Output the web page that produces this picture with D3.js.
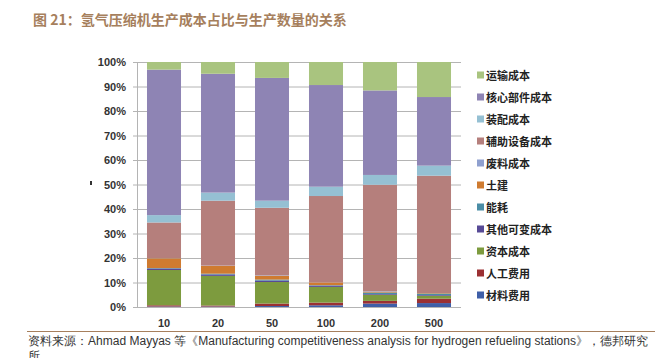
<!DOCTYPE html>
<html>
<head>
<meta charset="utf-8">
<script src="https://cdn.jsdelivr.net/npm/d3@7"></script>
<style>
  body { margin: 0; background: #fff; }
  svg { display: block; }
</style>
</head>
<body>
<svg id="chart" width="657" height="358"></svg>
<script>
// categories (production volume) and series, bottom of stack first
const categories = ['10', '20', '50', '100', '200', '500'];
const seriesNames = ['材料费用', '人工费用', '资本成本', '其他可变成本', '能耗', '土建',
  '废料成本', '辅助设备成本', '装配成本', '核心部件成本', '运输成本'];
const seriesColors = ['#3f5fa8', '#9b3033', '#7d9b3e', '#574a96', '#4b8da6', '#cf7b30',
  '#8fa0cf', '#b57f7c', '#95c0d3', '#8e84b4', '#a9c47f'];

// percent values, one array per series (in category order)
const material  = [0.2, 0.2, 0.4, 0.7, 1.4, 1.6];
const labor     = [0.5, 0.4, 1.0, 1.1, 1.1, 1.8];
const capital   = [14.4, 12.1, 8.8, 6.4, 2.5, 1.2];
const otherVar  = [0.6, 0.6, 0.6, 0.5, 0.3, 0.3];
const energy    = [0.2, 0.3, 0.4, 0.2, 0.6, 0.6];
const civil     = [4.0, 3.2, 1.5, 1.1, 0.4, 0.2];
const scrap     = [0.1, 0.1, 0.2, 0.0, 0.2, 0.0];
const auxEquip  = [14.5, 26.5, 27.6, 35.3, 43.4, 47.9];
const assembly  = [3.0, 3.3, 2.9, 3.8, 4.0, 4.1];
const coreParts = [59.4, 48.5, 50.1, 41.5, 34.5, 28.0];
const transport = [3.1, 4.8, 6.5, 9.4, 11.6, 14.3];
const yTicks = [0, 10, 20, 30, 40, 50, 60, 70, 80, 90, 100];

const seriesValues = [material, labor, capital, otherVar, energy, civil,
  scrap, auxEquip, assembly, coreParts, transport];

const table = categories.map((c, i) => {
  const row = { cat: c };
  seriesNames.forEach((s, k) => { row[s] = seriesValues[k][i]; });
  return row;
});

const svg = d3.select('#chart');
const margin = { left: 137, right: 196, top: 62, bottom: 51 };
const W = 657, H = 358;

let x = d3.scaleBand().domain(categories).range([margin.left, W - margin.right]).paddingInner(0.37).paddingOuter(0.185);
let y = d3.scaleLinear().domain([0, 100]).range([H - margin.bottom, margin.top]);

// title
svg.append('text')
  .attr('x', 33).attr('y', 25)
  .attr('fill', '#a67f5d')
  .attr('font-family', 'Noto Sans CJK SC')
  .attr('font-weight', 700)
  .attr('font-size', 14)
  .text('图 21：氢气压缩机生产成本占比与生产数量的关系');

// gridlines
svg.append('g').selectAll('line').data(yTicks).join('line')
  .attr('x1', margin.left - 4).attr('x2', W - margin.right)
  .attr('y1', d => y(d) + 0.5).attr('y2', d => y(d) + 0.5)
  .attr('stroke', '#b4b4b4').attr('stroke-width', 1);
svg.append('line')
  .attr('x1', margin.left + 0.5).attr('x2', margin.left + 0.5)
  .attr('y1', y(100)).attr('y2', y(0))
  .attr('stroke', '#b4b4b4');

// y tick labels
svg.append('g').selectAll('text').data(yTicks).join('text')
  .attr('x', 126).attr('y', d => y(d) + 4)
  .attr('text-anchor', 'end')
  .attr('font-family', 'Liberation Sans, Arial, sans-serif')
  .attr('font-weight', 700).attr('font-size', 11)
  .attr('fill', '#333')
  .text(d => d + '%');

// stacked bars
let stack = d3.stack().keys(seriesNames);
let layers = stack(table);
svg.append('g').selectAll('g').data(layers).join('g')
  .attr('fill', (d, i) => seriesColors[i])
  .selectAll('rect').data(d => d).join('rect')
  .attr('x', d => x(d.data.cat))
  .attr('width', x.bandwidth())
  .attr('y', d => y(d[1]))
  .attr('height', d => Math.max(0, y(d[0]) - y(d[1])));

// x labels
svg.append('g').selectAll('text').data(categories).join('text')
  .attr('x', d => x(d) + x.bandwidth() / 2).attr('y', 327)
  .attr('text-anchor', 'middle')
  .attr('font-family', 'Liberation Sans, Arial, sans-serif')
  .attr('font-weight', 700).attr('font-size', 11)
  .attr('fill', '#333')
  .text(d => d);

// legend (top item = last series)
let legendItems = seriesNames.map((s, i) => ({ name: s, color: seriesColors[i] })).reverse();
let legend = svg.append('g').selectAll('g').data(legendItems).join('g')
  .attr('transform', (d, i) => `translate(477, ${75.5 + i * 22})`);
legend.append('rect')
  .attr('x', 0).attr('y', -4).attr('width', 7).attr('height', 7)
  .attr('fill', d => d.color);
legend.append('text')
  .attr('x', 9).attr('y', 4)
  .attr('font-family', 'Noto Sans CJK SC')
  .attr('font-weight', 700).attr('font-size', 11)
  .attr('fill', '#222')
  .text(d => d.name);

// small mark on the left edge
svg.append('rect').attr('x', 90).attr('y', 181).attr('width', 2).attr('height', 4).attr('fill', '#333');

// source line
svg.append('line')
  .attr('x1', 27).attr('x2', 655).attr('y1', 331.5).attr('y2', 331.5)
  .attr('stroke', '#a67f5d').attr('stroke-width', 1);
svg.append('text')
  .attr('x', 28).attr('y', 345)
  .attr('font-family', 'Liberation Sans, Arial, sans-serif')
  .attr('font-size', 12).attr('fill', '#333')
  .attr('textLength', 620).attr('lengthAdjust', 'spacing')
  .text('资料来源：Ahmad Mayyas 等《Manufacturing competitiveness analysis for hydrogen refueling stations》，德邦研究');
svg.append('text')
  .attr('x', 28).attr('y', 360)
  .attr('font-family', 'Liberation Sans, Arial, sans-serif')
  .attr('font-size', 12).attr('fill', '#333')
  .text('所');
</script>
</body>
</html>
